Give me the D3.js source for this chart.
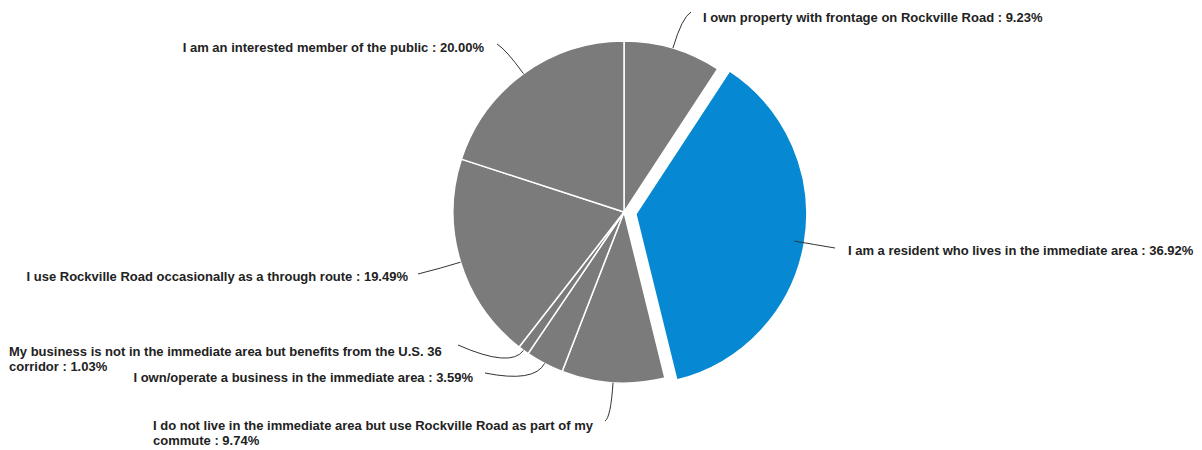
<!DOCTYPE html>
<html>
<head>
<meta charset="utf-8">
<script src="https://cdn.jsdelivr.net/npm/d3@7"></script>
<style>
  body { margin: 0; background: #fff; }
  text { font-family: 'Liberation Sans', Arial, sans-serif; font-weight: bold; font-size: 13px; fill: #222; }
</style>
</head>
<body>
<svg id="chart" width="1202" height="450"></svg>
<script>
// survey answers, clockwise from 12 o'clock
const categories = [
  'I own property with frontage on Rockville Road',
  'I am a resident who lives in the immediate area',
  'I do not live in the immediate area but use Rockville Road as part of my commute',
  'I own/operate a business in the immediate area',
  'My business is not in the immediate area but benefits from the U.S. 36 corridor',
  'I use Rockville Road occasionally as a through route',
  'I am an interested member of the public'
];
const percents = [9.23, 36.92, 9.74, 3.59, 1.03, 19.49, 20.00];
const highlighted = [false, true, false, false, false, false, false];

// where each label sits (x, y of first line), how it wraps, and leader elbow length
const labelLayout = [
  { x: 703, y: 17, anchor: 'start', lines: 1, endX: 691, endY: 12, elbow: 32 },
  { x: 848, y: 250, anchor: 'start', lines: 1, endX: 835, endY: 248, elbow: 20 },
  { x: 153, y: 425, anchor: 'start', lines: 2, wrapAt: 'my', endX: 605, endY: 421, elbow: 35 },
  { x: 473, y: 377, anchor: 'end', lines: 1, endX: 485, endY: 373, elbow: 22 },
  { x: 9, y: 351, anchor: 'start', lines: 2, wrapAt: '36', endX: 458, endY: 345, elbow: 22 },
  { x: 408, y: 276, anchor: 'end', lines: 1, endX: 418, endY: 274, elbow: 20 },
  { x: 484, y: 47, anchor: 'end', lines: 1, endX: 497, endY: 44, elbow: 30 }
];

const svg = d3.select('#chart');
const cx = 624, cy = 212, radius = 171, explode = 12;
const gray = '#7b7b7b', blue = '#0689d2';

const data = categories.map((c, i) => ({ name: c, value: percents[i], hot: highlighted[i], layout: labelLayout[i] }));

const pie = d3.pie().value(d => d.value).sort(null);
const arc = d3.arc().innerRadius(0).outerRadius(radius);
const arcs = pie(data);

const g = svg.append('g').attr('transform', `translate(${cx},${cy})`);

function midAngle(d) { return (d.startAngle + d.endAngle) / 2; }
function shift(d) { return d.data.hot ? explode : 0; }

g.selectAll('path.slice')
  .data(arcs)
  .enter().append('path')
    .attr('class', 'slice')
    .attr('d', arc)
    .attr('transform', d => {
      const a = midAngle(d), s = shift(d);
      return `translate(${(Math.sin(a) * s).toFixed(2)},${(-Math.cos(a) * s).toFixed(2)})`;
    })
    .attr('fill', d => d.data.hot ? blue : gray)
    .attr('stroke', '#fff')
    .attr('stroke-width', 1.5)
    .attr('stroke-linejoin', 'round');

// leader lines
svg.append('g')
  .selectAll('path')
  .data(arcs)
  .enter().append('path')
    .attr('fill', 'none')
    .attr('stroke', '#333')
    .attr('stroke-width', 1)
    .attr('d', d => {
      const a = midAngle(d);
      const ux = Math.sin(a), uy = -Math.cos(a);
      const r0 = d.data.hot ? radius + explode - 10 : radius;
      const sx = cx + ux * r0, sy = cy + uy * r0;
      const e = d.data.layout.elbow;
      const ex = sx + ux * e, ey = sy + uy * e;
      return `M${sx.toFixed(1)},${sy.toFixed(1)}Q${ex.toFixed(1)},${ey.toFixed(1)} ${d.data.layout.endX},${d.data.layout.endY}`;
    });

// labels
const label = svg.append('g')
  .selectAll('text')
  .data(arcs)
  .enter().append('text')
    .attr('x', d => d.data.layout.x)
    .attr('y', d => d.data.layout.y)
    .attr('dy', '0.35em')
    .attr('text-anchor', d => d.data.layout.anchor);

label.each(function (d) {
  const full = d.data.name + ' : ' + d.data.value.toFixed(2) + '%';
  const t = d3.select(this);
  if (d.data.layout.lines == 2) {
    const cut = full.indexOf(' ' + d.data.layout.wrapAt + ' ') + d.data.layout.wrapAt.length + 1;
    t.append('tspan').text(full.slice(0, cut));
    t.append('tspan').attr('x', d.data.layout.x).attr('dy', 15).text(full.slice(cut + 1));
  } else {
    t.text(full);
  }
});
</script>
</body>
</html>
